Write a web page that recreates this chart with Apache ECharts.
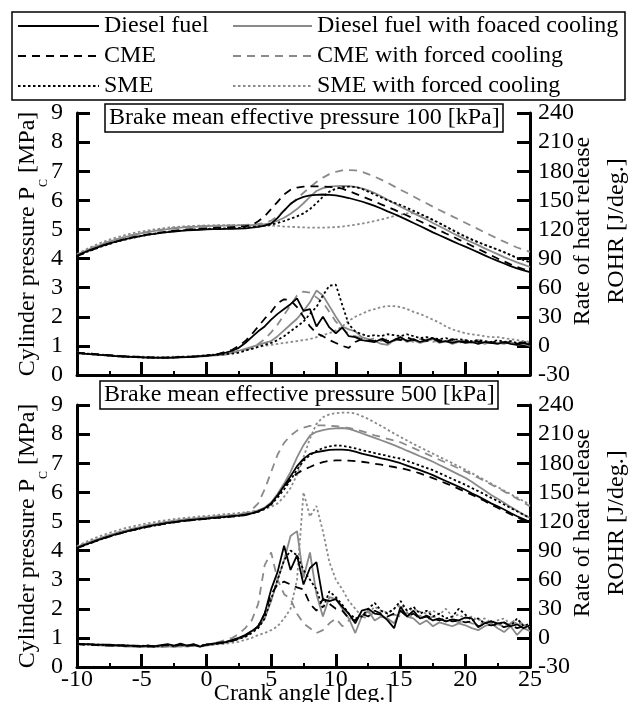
<!DOCTYPE html>
<html><head><meta charset="utf-8">
<script src="https://cdn.jsdelivr.net/npm/echarts@6/dist/echarts.min.js"></script>
<style>html,body{margin:0;padding:0;background:#fff}#c{width:628px;height:702px}</style>
</head><body><div id="c"></div>
<script>
// Crank angle grid [deg.]
const angles = [-10,-9.5,-9,-8.5,-8,-7.5,-7,-6.5,-6,-5.5,
 -5,-4.5,-4,-3.5,-3,-2.5,-2,-1.5,-1,-0.5,
 0,0.5,1,1.5,2,2.5,3,3.5,4,4.5,
 5,5.5,6,6.5,7,7.5,8,8.5,9,9.5,
 10,10.5,11,11.5,12,12.5,13,13.5,14,14.5,
 15,15.5,16,16.5,17,17.5,18,18.5,19,19.5,
 20,20.5,21,21.5,22,22.5,23,23.5,24,24.5,25];

const seriesNames = ['Diesel fuel','Diesel fuel with foaced cooling','CME','CME with forced cooling','SME','SME with forced cooling'];
const panelTitles = ['Brake mean effective pressure 100 [kPa]','Brake mean effective pressure 500 [kPa]'];

// ---- BMEP 100 kPa: cylinder pressure [MPa]
const dfP100 = [4.10,4.20,4.29,4.37,4.45,4.52,4.58,4.64,4.69,4.74,
 4.78,4.82,4.85,4.88,4.91,4.93,4.95,4.97,4.98,4.99,
 5.00,5.01,5.01,5.02,5.02,5.03,5.04,5.06,5.09,5.13,
 5.20,5.40,5.65,5.88,6.03,6.12,6.17,6.19,6.20,6.19,
 6.17,6.13,6.08,6.02,5.96,5.89,5.81,5.72,5.62,5.53,
 5.43,5.33,5.22,5.12,5.01,4.90,4.80,4.70,4.60,4.50,
 4.41,4.31,4.21,4.11,4.01,3.92,3.83,3.74,3.66,3.59,3.53];
const dffP100 = [4.12,4.23,4.33,4.42,4.50,4.58,4.65,4.71,4.77,4.82,
 4.87,4.91,4.95,4.98,5.01,5.04,5.06,5.08,5.09,5.10,
 5.11,5.12,5.12,5.13,5.13,5.14,5.14,5.15,5.16,5.18,
 5.22,5.30,5.40,5.54,5.70,5.90,6.12,6.32,6.42,6.47,
 6.49,6.50,6.49,6.46,6.41,6.34,6.25,6.14,6.02,5.90,
 5.78,5.67,5.56,5.45,5.34,5.22,5.11,5.00,4.88,4.77,
 4.66,4.56,4.46,4.35,4.25,4.15,4.05,3.96,3.87,3.79,3.71];
const cmeP100 = [4.08,4.18,4.27,4.36,4.44,4.51,4.58,4.64,4.70,4.75,
 4.79,4.83,4.87,4.90,4.93,4.96,4.98,5.00,5.01,5.03,
 5.04,5.05,5.06,5.07,5.08,5.09,5.11,5.15,5.28,5.45,
 5.70,5.95,6.20,6.36,6.44,6.47,6.48,6.48,6.47,6.46,
 6.45,6.40,6.32,6.23,6.14,6.05,5.96,5.86,5.77,5.68,
 5.58,5.48,5.38,5.28,5.18,5.08,4.97,4.86,4.76,4.65,
 4.55,4.44,4.33,4.22,4.11,4.00,3.90,3.80,3.71,3.64,3.58];
const cmefP100 = [4.13,4.24,4.34,4.43,4.51,4.59,4.66,4.72,4.78,4.83,
 4.88,4.92,4.96,4.99,5.02,5.05,5.07,5.09,5.10,5.11,
 5.12,5.13,5.13,5.14,5.14,5.15,5.16,5.17,5.19,5.22,
 5.30,5.45,5.65,5.86,6.06,6.26,6.45,6.63,6.78,6.90,
 6.98,7.03,7.04,7.03,6.98,6.90,6.81,6.71,6.60,6.48,
 6.36,6.25,6.13,6.01,5.90,5.78,5.67,5.56,5.45,5.34,
 5.23,5.12,5.01,4.90,4.79,4.68,4.58,4.48,4.38,4.30,4.23];
const smeP100 = [4.08,4.18,4.27,4.35,4.43,4.50,4.57,4.63,4.68,4.73,
 4.78,4.82,4.86,4.89,4.92,4.94,4.96,4.98,5.00,5.01,
 5.02,5.03,5.03,5.04,5.04,5.05,5.06,5.08,5.10,5.13,
 5.17,5.22,5.29,5.37,5.45,5.55,5.70,5.90,6.12,6.30,
 6.40,6.45,6.47,6.46,6.40,6.30,6.20,6.10,6.00,5.92,
 5.84,5.74,5.64,5.54,5.44,5.33,5.22,5.10,4.98,4.86,
 4.75,4.65,4.56,4.47,4.39,4.31,4.22,4.12,4.02,3.95,3.88];
const smefP100 = [4.15,4.27,4.38,4.48,4.57,4.65,4.72,4.78,4.84,4.89,
 4.93,4.97,5.00,5.03,5.06,5.08,5.10,5.11,5.12,5.13,
 5.14,5.14,5.15,5.15,5.15,5.15,5.15,5.15,5.15,5.14,
 5.13,5.12,5.10,5.09,5.08,5.07,5.06,5.06,5.06,5.07,
 5.08,5.10,5.13,5.16,5.20,5.24,5.29,5.34,5.40,5.46,
 5.51,5.55,5.55,5.50,5.42,5.32,5.21,5.10,4.99,4.88,
 4.77,4.67,4.57,4.48,4.39,4.30,4.21,4.12,4.03,3.95,3.86];

// ---- BMEP 100 kPa: rate of heat release [J/deg.]
const dfR100 = [-7.5,-8,-8.5,-9,-9.5,-10,-10.5,-11,-11,-11.5,
 -11.5,-12,-12,-12,-12,-12,-11.5,-11.5,-11,-10.5,
 -10,-9.5,-8.5,-7,-5,-2,3,9,15,20,
 27,33,38,43,49,36,38,20,30,19,
 13,19,10,9,6,5,4,7,3,6,
 9,5,7,4,6,8,4,5,3,5,
 3,4,2,4,3,2,4,2,1,3,1];
const dffR100 = [-7.5,-8,-8.5,-9,-9.5,-10,-10.5,-11,-11.5,-11.5,
 -12,-12,-12.5,-12.5,-12.5,-12,-12,-11.5,-11.5,-11,
 -10.5,-10,-9.5,-9,-7,-5,-3,-1,1,3,
 5,10,16,22,28,36,45,57,52,41,
 30,20,17,15,9,7,5,2,1,6,
 9,4,6,3,5,7,3,5,2,4,
 6,3,5,2,4,3,2,4,1,2,0];
const cmeR100 = [-7,-7.5,-8,-8.5,-9,-9.5,-10,-10.5,-11,-11,
 -11.5,-11.5,-12,-12,-12,-11.5,-11.5,-11,-11,-10.5,
 -10,-9,-8,-6,-4,0,5,12,20,28,
 35,44,48,47,40,30,20,13,10,6,
 3,0,-2,4,7,6,5,8,5,7,
 6,9,6,8,5,7,6,4,7,5,
 4,6,4,5,3,5,3,4,2,4,2];
const cmefR100 = [-7,-7.5,-8,-8.5,-9,-9.5,-10,-10.5,-11,-11.5,
 -11.5,-12,-12,-12.5,-12,-12,-11.5,-11.5,-11,-10.5,
 -10,-9.5,-9,-8,-7,-5.5,-4,-2,2,7,
 14,22,32,42,52,56,55,50,45,35,
 25,18,12,10,8,6,8,5,7,5,
 8,6,4,7,5,4,6,4,5,3,
 5,4,6,4,3,5,3,4,2,3,2];
const smeR100 = [-7.5,-8,-8.5,-9,-9.5,-10,-10.5,-11,-11.5,-11.5,
 -12,-12,-12,-12.5,-12,-12,-11.5,-11.5,-11,-10.5,
 -10,-9.5,-9,-8.5,-8,-7,-5,-3,-1,1,
 3,6,10,15,20,25,33,40,52,62,
 63,42,22,15,12,10,11,10,12,11,
 10,12,10,8,9,8,7,8,6,7,
 6,5,6,5,4,6,4,5,3,4,3];
const smefR100 = [-7,-7.5,-8,-8.5,-9,-9.5,-10,-10.5,-10.5,-11,
 -11,-11.5,-11.5,-11.5,-11.5,-11,-11,-10.5,-10.5,-10,
 -9.5,-9,-8,-7.5,-6,-5,-4,-3,-1,0,
 1,2,3,4,5,6,7,9,11,13,
 16,20,26,30,33,36,38,40,41,41,
 40,38,35,33,30,27,24,20,17,15,
 13,12,11,10,9,9,8,7,6,5,4];

// ---- BMEP 500 kPa: cylinder pressure [MPa]
const dfP500 = [4.09,4.18,4.26,4.34,4.42,4.49,4.56,4.62,4.68,4.73,
 4.78,4.83,4.87,4.91,4.95,4.98,5.01,5.04,5.06,5.08,
 5.10,5.12,5.14,5.16,5.18,5.20,5.23,5.28,5.35,5.45,
 5.62,5.90,6.22,6.55,6.90,7.15,7.32,7.38,7.42,7.46,
 7.47,7.47,7.45,7.40,7.33,7.28,7.23,7.17,7.12,7.06,
 7.00,6.92,6.84,6.76,6.68,6.59,6.49,6.39,6.29,6.19,
 6.09,5.97,5.86,5.74,5.62,5.52,5.41,5.29,5.18,5.08,4.98];
const dffP500 = [4.12,4.21,4.30,4.38,4.46,4.53,4.60,4.66,4.72,4.77,
 4.82,4.87,4.91,4.95,4.99,5.02,5.05,5.08,5.10,5.12,
 5.14,5.16,5.18,5.20,5.22,5.24,5.26,5.31,5.38,5.48,
 5.65,5.95,6.30,6.70,7.20,7.62,7.95,8.08,8.14,8.18,
 8.20,8.21,8.18,8.11,8.03,7.95,7.87,7.79,7.71,7.62,
 7.53,7.43,7.34,7.24,7.15,7.05,6.94,6.83,6.72,6.61,
 6.50,6.36,6.21,6.06,5.91,5.78,5.64,5.50,5.37,5.24,5.12];
const cmeP500 = [4.08,4.17,4.25,4.33,4.41,4.48,4.55,4.61,4.67,4.72,
 4.77,4.82,4.86,4.90,4.94,4.97,5.00,5.03,5.05,5.07,
 5.09,5.11,5.13,5.15,5.17,5.19,5.22,5.27,5.34,5.44,
 5.60,5.88,6.18,6.45,6.65,6.78,6.87,6.97,7.04,7.08,
 7.10,7.10,7.09,7.07,7.05,7.02,6.98,6.95,6.91,6.87,
 6.83,6.78,6.72,6.65,6.57,6.49,6.40,6.31,6.22,6.12,
 6.02,5.92,5.81,5.70,5.58,5.47,5.36,5.25,5.14,5.04,4.94];
const cmefP500 = [4.12,4.21,4.30,4.38,4.46,4.53,4.60,4.66,4.72,4.77,
 4.82,4.87,4.91,4.95,4.99,5.02,5.05,5.08,5.10,5.12,
 5.14,5.16,5.18,5.20,5.22,5.25,5.28,5.40,5.62,6.10,
 6.70,7.30,7.70,7.95,8.12,8.22,8.28,8.30,8.30,8.29,
 8.27,8.24,8.21,8.16,8.10,8.03,7.96,7.90,7.84,7.78,
 7.72,7.62,7.52,7.42,7.32,7.22,7.12,7.02,6.92,6.82,
 6.72,6.61,6.50,6.39,6.27,6.15,6.03,5.91,5.78,5.65,5.52];
const smeP500 = [4.08,4.17,4.25,4.33,4.41,4.48,4.55,4.61,4.67,4.72,
 4.77,4.82,4.86,4.90,4.94,4.97,5.00,5.03,5.05,5.07,
 5.09,5.11,5.13,5.15,5.17,5.19,5.22,5.27,5.33,5.42,
 5.58,5.82,6.10,6.42,6.78,7.08,7.28,7.42,7.52,7.58,
 7.61,7.60,7.56,7.51,7.45,7.40,7.35,7.30,7.25,7.20,
 7.16,7.08,7.00,6.92,6.84,6.76,6.66,6.56,6.46,6.36,
 6.26,6.15,6.04,5.93,5.81,5.70,5.58,5.46,5.35,5.23,5.12];
const smefP500 = [4.15,4.26,4.36,4.45,4.53,4.61,4.68,4.74,4.80,4.85,
 4.90,4.94,4.98,5.02,5.05,5.08,5.11,5.13,5.15,5.17,
 5.19,5.21,5.23,5.25,5.27,5.29,5.31,5.34,5.38,5.43,
 5.50,5.62,5.85,6.15,6.60,7.20,7.85,8.35,8.58,8.68,
 8.72,8.74,8.74,8.71,8.62,8.52,8.40,8.28,8.15,8.02,
 7.90,7.78,7.66,7.55,7.44,7.33,7.22,7.11,7.00,6.89,
 6.78,6.66,6.54,6.42,6.30,6.18,6.06,5.94,5.82,5.70,5.58];

// ---- BMEP 500 kPa: rate of heat release [J/deg.]
const dfR500 = [-6,-6.5,-6.5,-7,-7,-7,-7.5,-7.5,-8,-8,
 -8.5,-8,-8.5,-7.5,-6.5,-8,-6,-8,-6.5,-9,
 -7,-6,-5,-4,-2,0,3,7,12,25,
 50,68,95,70,85,55,72,78,40,38,
 40,32,25,15,28,30,25,24,18,10,
 32,22,28,20,22,18,20,17,19,18,
 21,20,11,15,17,15,16,12,14,10,13];
const dffR500 = [-6.5,-7,-7,-7.5,-8,-8,-8.5,-8.5,-9,-9,
 -9.5,-9,-9.5,-9,-8.5,-9.5,-8,-9,-8,-9,
 -8,-7,-6,-5,-3,-1,3,7,11,20,
 38,60,80,105,110,62,88,45,22,42,
 40,30,20,5,22,28,18,22,20,15,
 28,22,20,14,18,12,16,14,12,15,
 13,10,8,12,15,10,6,12,3,10,7];
const cmeR500 = [-6.5,-7,-7,-7.5,-7.5,-8,-8,-8,-8.5,-8.5,
 -9,-8.5,-9,-8,-7.5,-8.5,-7,-8.5,-7,-8,
 -7,-6.5,-5.5,-4.5,-3,-1,2,6,12,25,
 45,55,58,55,52,50,35,28,40,35,
 30,28,20,18,25,22,28,25,22,25,
 28,22,25,20,23,20,18,20,17,18,
 16,17,12,14,13,14,11,13,10,12,10];
const cmefR500 = [-6.5,-7,-7.5,-7.5,-8,-8,-8.5,-8.5,-9,-9,
 -9,-9.5,-9,-9.5,-9,-8.5,-9,-8,-8.5,-8,
 -7,-6,-4,-2,0,4,10,18,35,75,
 88,60,45,40,25,15,10,5,8,15,
 20,12,18,25,22,20,28,22,20,24,
 22,26,20,23,18,22,20,17,19,16,
 18,15,14,16,15,14,12,15,20,13,12];
const smeR500 = [-6,-6.5,-7,-7,-7.5,-7.5,-8,-8,-8,-8.5,
 -8.5,-8,-9,-8,-7,-8.5,-7,-8,-7.5,-8.5,
 -7,-6.5,-5.5,-4.5,-3,-1,1,5,10,20,
 40,60,80,90,85,70,60,50,30,48,
 42,34,25,20,22,30,36,28,25,30,
 38,28,32,25,28,22,25,20,22,30,
 24,18,20,15,17,14,16,12,20,12,15];
const smefR500 = [-6,-6.5,-6.5,-7,-7,-7.5,-7.5,-7.5,-8,-8,
 -8,-8,-8.5,-8,-8,-8.5,-8,-8,-7.5,-8,
 -7.5,-7,-6.5,-6,-5,-4,-2,0,3,5,
 8,12,20,30,60,150,125,136,110,78,
 60,50,38,30,22,25,32,28,26,30,
 34,28,30,27,25,28,24,30,22,24,
 20,22,18,20,16,18,20,14,16,13,12];

const pLeftTicks = {min: 0, max: 9, interval: 1};
const rRightTicks = {min: -30, max: 240, interval: 30};
const xTicks = {min: -10, max: 25, interval: 5};

const FONT = 'Liberation Serif';
const GRAY = '#8a8a8a';
const styles = [
  {color: '#000', type: 'solid'},
  {color: GRAY, type: 'solid'},
  {color: '#000', type: [8, 6]},
  {color: GRAY, type: [8, 6]},
  {color: '#000', type: [2.5, 2.5]},
  {color: GRAY, type: [2.5, 2.5]}
];
const panelData = [
  {P: [dfP100, dffP100, cmeP100, cmefP100, smeP100, smefP100], R: [dfR100, dffR100, cmeR100, cmefR100, smeR100, smefR100]},
  {P: [dfP500, dffP500, cmeP500, cmefP500, smeP500, smefP500], R: [dfR500, dffR500, cmeR500, cmefR500, smeR500, smefR500]}
];

const series = [];
panelData.forEach((pd, g) => {
  seriesNames.forEach((nm, k) => {
    [['P', 0], ['R', 1]].forEach(([key, ax]) => {
      series.push({
        type: 'line', name: nm, xAxisIndex: g, yAxisIndex: g * 2 + ax,
        data: angles.map((a, i) => [a, pd[key][k][i]]),
        symbol: 'none', smooth: false,
        lineStyle: {color: styles[k].color, type: styles[k].type, width: 1.8},
        itemStyle: {color: styles[k].color},
        z: k % 2 === 0 ? 3 : 2
      });
    });
  });
});

const axisLine = {show: true, onZero: false, lineStyle: {color: '#000', width: 3}};
const tick = {show: true, inside: true, length: 13, lineStyle: {color: '#000', width: 3}};
const lbl = {color: '#000', fontFamily: FONT, fontSize: 24};

const xAxis = [0, 1].map(g => ({
  gridIndex: g, type: 'value', ...xTicks,
  axisLine, axisTick: tick,
  minorTick: {show: true, splitNumber: 2, length: 4, lineStyle: {color: '#000', width: 2}},
  splitLine: {show: false},
  axisLabel: g === 1 ? {...lbl, margin: 1} : {show: false},
  name: g === 1 ? 'Crank angle [deg.]' : '',
  nameLocation: 'middle', nameGap: 15, nameMoveOverlap: false,
  nameTextStyle: {color: '#000', fontFamily: FONT, fontSize: 24}
}));

const yAxis = [];
[0, 1].forEach(g => {
  yAxis.push({
    gridIndex: g, type: 'value', position: 'left', ...pLeftTicks,
    axisLine, axisTick: tick, splitLine: {show: false},
    axisLabel: {...lbl, margin: 14},
    name: '{a|Cylinder pressure P}{b|C}{a| [MPa]}',
    nameLocation: 'middle', nameRotate: 90, nameGap: 27, nameMoveOverlap: false,
    nameTextStyle: {color: '#000', fontFamily: FONT, fontSize: 24,
      rich: {a: {fontFamily: FONT, fontSize: 24, color: '#000', lineHeight: 24, verticalAlign: 'top'},
             b: {fontFamily: FONT, fontSize: 12, color: '#000', padding: [22, 0, 0, 0], verticalAlign: 'top'}}}
  });
  yAxis.push({
    gridIndex: g, type: 'value', position: 'right', ...rRightTicks,
    axisLine, axisTick: tick, splitLine: {show: false},
    axisLabel: {...lbl, margin: 8},
    name: 'Rate of heat release\nROHR [J/deg.]',
    nameLocation: 'middle', nameRotate: 90, nameGap: 36, nameMoveOverlap: false,
    nameTextStyle: {color: '#000', fontFamily: FONT, fontSize: 24, lineHeight: 34, padding: [0, 0, 0, 26]}
  });
});

const legendBase = {orient: 'vertical', top: 14, itemHeight: 14, itemGap: 6, padding: 0, selectedMode: false,
  itemStyle: {opacity: 0, borderWidth: 0}, lineStyle: {width: 2},
  textStyle: {color: '#000', fontFamily: FONT, fontSize: 24}};

const chart = echarts.init(document.getElementById('c'), null, {renderer: 'canvas'});
chart.setOption({
  animation: false,
  backgroundColor: '#fff',
  title: panelTitles.map((t, i) => ({
    text: t, left: i === 0 ? 105 : 100, top: i === 0 ? 104 : 381,
    borderColor: '#000', borderWidth: 1.5, padding: [2, 4, 2, 4],
    textStyle: {color: '#000', fontFamily: FONT, fontSize: 24, fontWeight: 'normal'}
  })),
  legend: [
    {...legendBase, data: [seriesNames[0], seriesNames[2], seriesNames[4]], left: 17, itemWidth: 81},
    {...legendBase, data: [seriesNames[1], seriesNames[3], seriesNames[5]], left: 232, itemWidth: 79}
  ],
  graphic: [{type: 'rect', shape: {x: 12, y: 12, width: 613, height: 88},
    style: {fill: 'none', stroke: '#000', lineWidth: 1.5}, z: 100}],
  grid: [
    {left: 77, top: 113, width: 453, height: 262, outerBoundsMode: 'none', containLabel: false},
    {left: 77, top: 405, width: 453, height: 262, outerBoundsMode: 'none', containLabel: false}
  ],
  xAxis, yAxis, series
});
</script></body></html>
